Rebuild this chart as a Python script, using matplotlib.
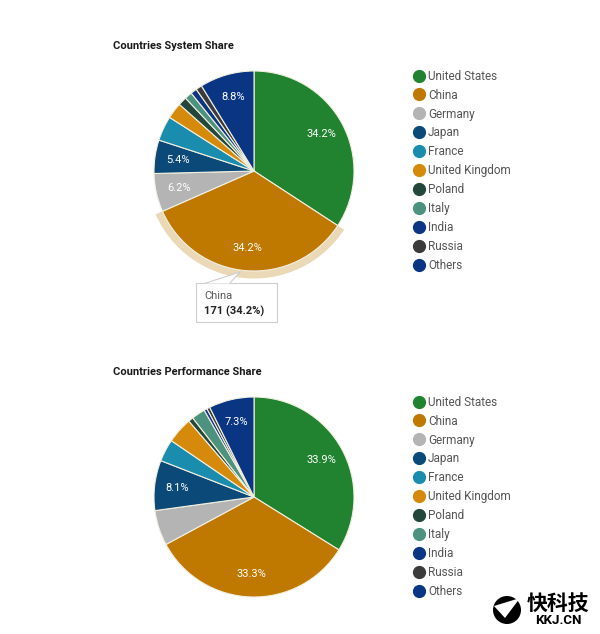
#!/usr/bin/env python3
"""Two TOP500 country share pies (system count and performance)."""

import matplotlib
matplotlib.use("Agg")
import matplotlib.pyplot as plt
from matplotlib.lines import Line2D
from matplotlib.patches import Wedge, Rectangle, Circle, Polygon

COUNTRIES = ["United States", "China", "Germany", "Japan", "France",
             "United Kingdom", "Poland", "Italy", "India", "Russia", "Others"]
COLORS = ["#21832f", "#bf7800", "#b4b4b4", "#0b4a78", "#1a8cae", "#d68a0c",
          "#23473b", "#4c927e", "#0c3584", "#3b3b3b", "#0a3583"]

SYSTEM_SHARE = [34.2, 34.2, 6.2, 5.4, 4.0, 2.6, 1.4, 1.2, 1.0, 1.0, 8.8]
PERF_SHARE = [33.9, 33.3, 5.7, 8.1, 3.6, 4.2, 0.8, 2.2, 0.5, 0.5, 7.3]
TITLES = ["Countries System Share", "Countries Performance Share"]
LABEL_MIN = [5.0, 6.0]

HIGHLIGHT = "China"
HIGHLIGHT_COUNT = 171

W, H = 600, 634
plt.rcParams["font.family"] = ["Roboto", "DejaVu Sans"]

fig = plt.figure(figsize=(W / 100, H / 100), dpi=100, facecolor="white")


def px_axes(cx, cy, half):
    return fig.add_axes([(cx - half) / W, 1 - (cy + half) / H, 2 * half / W, 2 * half / H])


def draw_pie(values, cy, title, label_min, highlight=False):
    ax = px_axes(254, cy, 130)
    wedges, _, autotexts = ax.pie(
        values, colors=COLORS, startangle=90, counterclock=False, radius=1.0,
        autopct=lambda p: f"{p:.1f}%" if p > label_min else "",
        pctdistance=0.77,
        wedgeprops={"edgecolor": "#f2f0e0", "linewidth": 0.8},
        textprops={"color": "white", "fontsize": 8},
    )
    ax.set_xlim(-1.3, 1.3)
    ax.set_ylim(-1.3, 1.3)
    ax.set_aspect("equal")
    ax.set_axis_off()
    if highlight:
        w = wedges[COUNTRIES.index(HIGHLIGHT)]
        ax.add_patch(Wedge((0, 0), 1.075, w.theta1, w.theta2, width=0.07,
                           facecolor="#ead8b6", edgecolor="none"))
    fig.text(113 / W, 1 - (cy - 125) / H, title, fontsize=8, fontweight="bold",
             color="#1a1a1a", ha="left", va="center")
    handles = [Line2D([], [], marker="o", linestyle="none", markersize=8.5,
                      markerfacecolor=c, markeredgecolor=c) for c in COLORS]
    fig.legend(handles, COUNTRIES, loc="upper left",
               bbox_to_anchor=(409 / W, 1 - (cy - 106) / H), frameon=False,
               fontsize=8.5, labelcolor="#555555", handlelength=0.9,
               handletextpad=0.3, labelspacing=0.5, borderaxespad=0)
    return ax


draw_pie(SYSTEM_SHARE, 171, TITLES[0], LABEL_MIN[0], highlight=True)
draw_pie(PERF_SHARE, 497, TITLES[1], LABEL_MIN[1])

# tooltip for the highlighted slice
overlay = fig.add_axes([0, 0, 1, 1])
overlay.set_xlim(0, W)
overlay.set_ylim(H, 0)
overlay.set_axis_off()
overlay.add_patch(Rectangle((196, 283), 81, 39, facecolor="white",
                            edgecolor="#cfcfcf", linewidth=0.8))
overlay.add_patch(Polygon([[206, 283.5], [230, 283.5], [240, 272]], closed=True,
                          facecolor="white", edgecolor="none"))
overlay.plot([206, 240, 230], [283, 272, 283], color="#cfcfcf", linewidth=0.8)
idx = COUNTRIES.index(HIGHLIGHT)
overlay.text(204, 296, HIGHLIGHT, fontsize=8, color="#555555", va="center")
overlay.text(204, 311, f"{HIGHLIGHT_COUNT} ({SYSTEM_SHARE[idx]:.1f}%)", fontsize=8,
             fontweight="bold", color="#222222", va="center")

# watermark
overlay.add_patch(Circle((507, 610), 14, facecolor="black", edgecolor="none"))
overlay.add_patch(Polygon([[494, 606], [520, 598], [505, 618]], closed=True,
                          facecolor="white", edgecolor="none"))
overlay.text(558, 603, "快科技", family=["Noto Sans CJK SC", "DejaVu Sans"],
             fontsize=15, fontweight="bold", color="black", ha="center", va="center")
overlay.text(558, 621, "KKJ.CN", fontsize=9.5, fontweight="bold", color="black",
             ha="center", va="center")

fig.savefig("out.png", dpi=100, facecolor="white")
